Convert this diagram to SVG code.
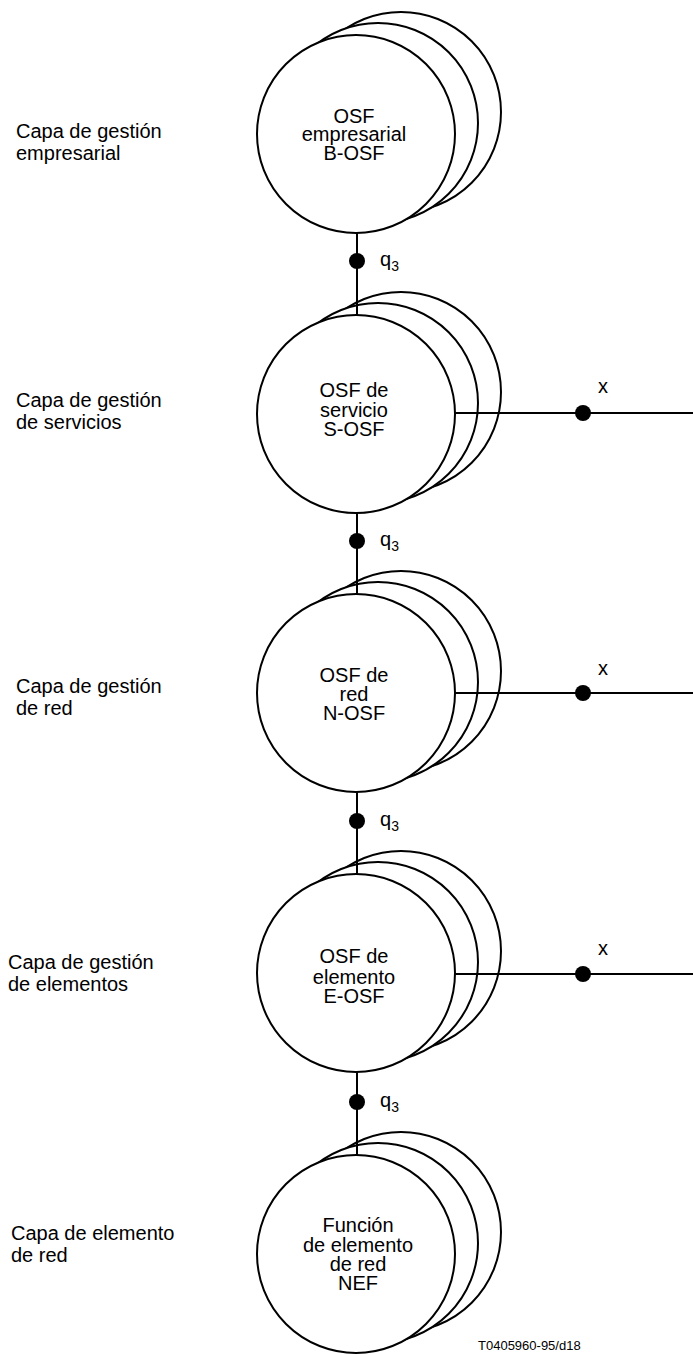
<svg xmlns="http://www.w3.org/2000/svg" width="693" height="1354" viewBox="0 0 693 1354">
  <style>
    .ring { fill: #ffffff; stroke: #000000; stroke-width: 2; }
    .wire { stroke: #000000; stroke-width: 2; fill: none; }
    .dot { fill: #000000; }
    text { font-family: "Liberation Sans", Arial, sans-serif; font-size: 20px; fill: #000000; }
    .mid { text-anchor: middle; }
    .sub { font-size: 14px; }
    .ref { font-size: 13px; }
  </style>
  <defs>
    <!-- stacked OSF symbol: two rear discs offset up-right, front disc on top -->
    <g id="stack">
      <circle class="ring" cx="45" cy="-22" r="100"/>
      <circle class="ring" cx="22" cy="-11" r="100"/>
      <circle class="ring" cx="0" cy="0" r="99"/>
    </g>
  </defs>

  <rect x="0" y="0" width="693" height="1354" fill="#ffffff"/>

  <!-- layer names -->
  <g id="layer-labels">
    <text x="16" y="138">Capa de gestión</text>
    <text x="16" y="160">empresarial</text>
    <text x="16" y="407">Capa de gestión</text>
    <text x="16" y="429">de servicios</text>
    <text x="16" y="693">Capa de gestión</text>
    <text x="16" y="715">de red</text>
    <text x="8" y="969">Capa de gestión</text>
    <text x="8" y="991">de elementos</text>
    <text x="11" y="1240">Capa de elemento</text>
    <text x="11" y="1262">de red</text>
  </g>

  <g id="b-osf">
    <use href="#stack" x="356" y="134"/>
    <text class="mid" x="354" y="123">OSF</text>
    <text class="mid" x="354" y="141">empresarial</text>
    <text class="mid" x="354" y="160">B-OSF</text>
  </g>

  <g id="s-osf">
    <use href="#stack" x="356" y="414"/>
    <text class="mid" x="354" y="397">OSF de</text>
    <text class="mid" x="354" y="417">servicio</text>
    <text class="mid" x="354" y="436">S-OSF</text>
  </g>

  <g id="n-osf">
    <use href="#stack" x="356" y="693"/>
    <text class="mid" x="354" y="682">OSF de</text>
    <text class="mid" x="354" y="701">red</text>
    <text class="mid" x="354" y="720">N-OSF</text>
  </g>

  <g id="e-osf">
    <use href="#stack" x="356" y="973"/>
    <text class="mid" x="354" y="963">OSF de</text>
    <text class="mid" x="354" y="984">elemento</text>
    <text class="mid" x="354" y="1003">E-OSF</text>
  </g>

  <g id="nef">
    <use href="#stack" x="356" y="1254"/>
    <text class="mid" x="358" y="1232">Función</text>
    <text class="mid" x="358" y="1252">de elemento</text>
    <text class="mid" x="358" y="1271">de red</text>
    <text class="mid" x="358" y="1290">NEF</text>
  </g>

  <!-- reference points: q3 between layers, x towards other domains -->
  <g id="connectors">
    <line class="wire" x1="357" y1="233" x2="357" y2="315"/>
    <circle class="dot" cx="357" cy="261" r="8"/>
    <text x="380" y="266">q<tspan class="sub" dy="5">3</tspan></text>

    <line class="wire" x1="357" y1="513" x2="357" y2="594"/>
    <circle class="dot" cx="357" cy="541" r="8"/>
    <text x="380" y="546">q<tspan class="sub" dy="5">3</tspan></text>

    <line class="wire" x1="357" y1="792" x2="357" y2="874"/>
    <circle class="dot" cx="357" cy="821" r="8"/>
    <text x="380" y="826">q<tspan class="sub" dy="5">3</tspan></text>

    <line class="wire" x1="357" y1="1072" x2="357" y2="1155"/>
    <circle class="dot" cx="357" cy="1102" r="8"/>
    <text x="380" y="1107">q<tspan class="sub" dy="5">3</tspan></text>

    <line class="wire" x1="455" y1="413" x2="693" y2="413"/>
    <circle class="dot" cx="583" cy="413" r="8"/>
    <text class="mid" x="603" y="393">x</text>

    <line class="wire" x1="455" y1="693" x2="693" y2="693"/>
    <circle class="dot" cx="583" cy="693" r="8"/>
    <text class="mid" x="603" y="675">x</text>

    <line class="wire" x1="455" y1="974" x2="693" y2="974"/>
    <circle class="dot" cx="583" cy="974" r="8"/>
    <text class="mid" x="603" y="955">x</text>
  </g>

  <text class="ref" x="478" y="1350">T0405960-95/d18</text>
</svg>
